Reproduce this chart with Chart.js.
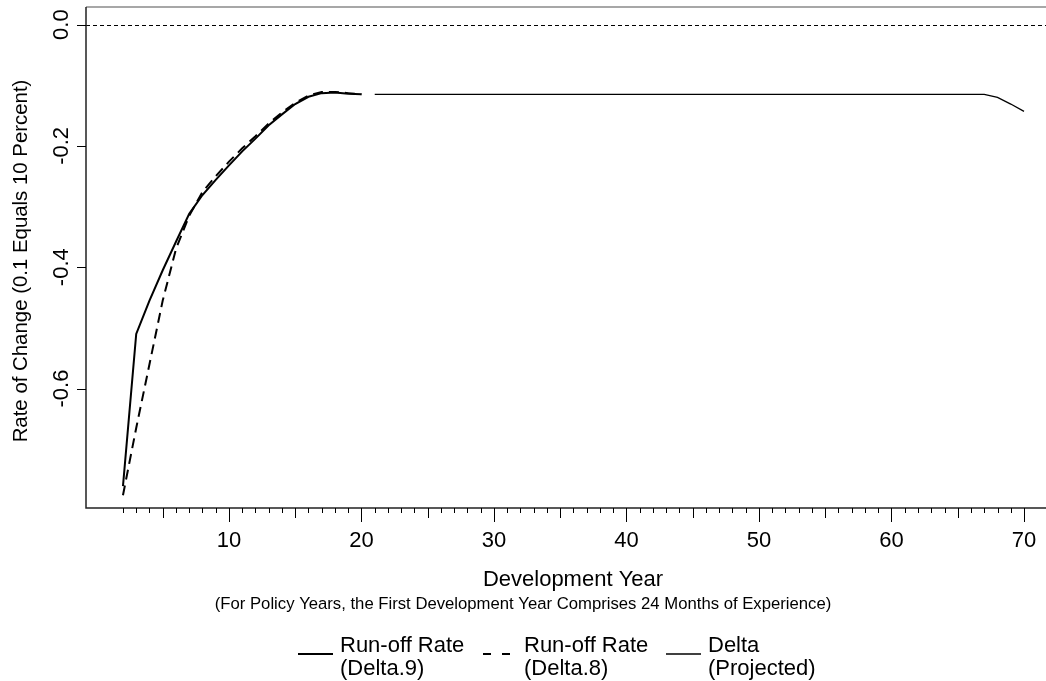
<!DOCTYPE html>
<html>
<head>
<meta charset="utf-8">
<script src="https://cdn.jsdelivr.net/npm/chart.js@4.4.1/dist/chart.umd.min.js"></script>
<style>
  body { margin: 0; background: #fff; }
  #wrap { width: 1046px; height: 681px; }
</style>
</head>
<body>
<div id="wrap"><canvas id="chart" width="1046" height="681"></canvas></div>
<script>
// development years and rates
const earlyYears = [2, 3, 4, 5, 6, 7, 8, 9, 10, 11, 12, 13, 14, 15, 16, 17, 18, 19, 20];
const runoffDelta9 = [-0.761, -0.51, -0.455, -0.405, -0.358, -0.312, -0.281, -0.256, -0.232, -0.209,
  -0.188, -0.166, -0.148, -0.131, -0.119, -0.113, -0.112, -0.114, -0.115];
const runoffDelta8 = [-0.776, -0.665, -0.56, -0.455, -0.37, -0.315, -0.276, -0.25, -0.226, -0.204,
  -0.184, -0.163, -0.145, -0.129, -0.117, -0.111, -0.111, -0.113, -0.115];
const projYears = [21, 22, 23, 24, 25, 26, 27, 28, 29, 30, 31, 32, 33, 34, 35, 36, 37, 38, 39, 40,
  41, 42, 43, 44, 45, 46, 47, 48, 49, 50, 51, 52, 53, 54, 55, 56, 57, 58, 59, 60,
  61, 62, 63, 64, 65, 66, 67, 68, 69, 70];
const projected = [-0.115, -0.115, -0.115, -0.115, -0.115, -0.115, -0.115, -0.115, -0.115, -0.115,
  -0.115, -0.115, -0.115, -0.115, -0.115, -0.115, -0.115, -0.115, -0.115, -0.115,
  -0.115, -0.115, -0.115, -0.115, -0.115, -0.115, -0.115, -0.115, -0.115, -0.115,
  -0.115, -0.115, -0.115, -0.115, -0.115, -0.115, -0.115, -0.115, -0.115, -0.115,
  -0.115, -0.115, -0.115, -0.115, -0.115, -0.115, -0.115, -0.12, -0.131, -0.143];
const seriesLabels = ["Run-off Rate\n(Delta.9)", "Run-off Rate\n(Delta.8)", "Delta\n(Projected)"];
const xTickLabels = [10, 20, 30, 40, 50, 60, 70];
const yTickValues = [0, -0.2, -0.4, -0.6];
const yTickLabels = ["0.0", "-0.2", "-0.4", "-0.6"];
const xTitle = "Development Year";
const xSubtitle = "(For Policy Years, the First Development Year Comprises 24 Months of Experience)";
const yTitle = "Rate of Change (0.1 Equals 10 Percent)";

const FONT = '"Liberation Sans", Arial, Helvetica, sans-serif';

function toPoints(xs, ys) {
  return xs.map((x, i) => ({ x: x, y: ys[i] }));
}

// axes, ticks, titles and legend drawn by hand to get the R look
const decor = {
  id: "decor",
  beforeDatasetsDraw(chart) {
    const ctx = chart.ctx;
    const area = chart.chartArea;
    const y = chart.scales.y;
    ctx.save();
    // zero reference line
    ctx.strokeStyle = "#000";
    ctx.lineWidth = 1;
    ctx.setLineDash([4, 3]);
    const y0 = Math.round(y.getPixelForValue(0)) + 0.5;
    ctx.beginPath();
    ctx.moveTo(area.left, y0);
    ctx.lineTo(area.right, y0);
    ctx.stroke();
    ctx.restore();
  },
  afterDraw(chart) {
    const ctx = chart.ctx;
    const area = chart.chartArea;
    const x = chart.scales.x;
    const y = chart.scales.y;
    ctx.save();
    ctx.setLineDash([]);

    // frame: gray top, dark left and bottom
    ctx.strokeStyle = "#8a8a8a";
    ctx.lineWidth = 1.5;
    ctx.beginPath();
    ctx.moveTo(area.left, area.top);
    ctx.lineTo(area.right, area.top);
    ctx.stroke();
    ctx.strokeStyle = "#222";
    ctx.lineWidth = 1.5;
    ctx.beginPath();
    ctx.moveTo(area.left, area.top);
    ctx.lineTo(area.left, area.bottom);
    ctx.lineTo(area.right, area.bottom);
    ctx.stroke();

    // x ticks: every year from 2, longer at 5s and 10s
    ctx.lineWidth = 1;
    ctx.strokeStyle = "#000";
    for (let yr = 2; yr <= 70; yr++) {
      const px = Math.round(x.getPixelForValue(yr)) + 0.5;
      let len = 5;
      if (yr % 10 === 0) len = 14;
      else if (yr % 5 === 0) len = 10;
      ctx.beginPath();
      ctx.moveTo(px, area.bottom);
      ctx.lineTo(px, area.bottom + len);
      ctx.stroke();
    }
    ctx.fillStyle = "#000";
    ctx.font = "22px " + FONT;
    ctx.textAlign = "center";
    ctx.textBaseline = "alphabetic";
    xTickLabels.forEach((v) => {
      ctx.fillText(String(v), x.getPixelForValue(v), 547);
    });

    // y ticks, rotated labels
    yTickValues.forEach((v, i) => {
      const py = Math.round(y.getPixelForValue(v)) + 0.5;
      ctx.beginPath();
      ctx.moveTo(area.left - 9, py);
      ctx.lineTo(area.left, py);
      ctx.stroke();
      ctx.save();
      ctx.translate(68, y.getPixelForValue(v));
      ctx.rotate(-Math.PI / 2);
      ctx.fillText(yTickLabels[i], 0, 0);
      ctx.restore();
    });

    // titles
    ctx.font = "22px " + FONT;
    ctx.fillText(xTitle, 573, 586);
    ctx.font = "16.7px " + FONT;
    ctx.fillText(xSubtitle, 523, 609);
    ctx.save();
    ctx.font = "20.4px " + FONT;
    ctx.translate(27, 261);
    ctx.rotate(-Math.PI / 2);
    ctx.fillText(yTitle, 0, 0);
    ctx.restore();

    // legend
    const sampleX = [298, 483, 666];
    const textX = [340, 524, 708];
    ctx.textAlign = "left";
    ctx.font = "22px " + FONT;
    chart.data.datasets.forEach((ds, i) => {
      const dashed = ds.borderDash && ds.borderDash.length;
      ctx.strokeStyle = "#000";
      ctx.lineWidth = ds.borderWidth;
      ctx.setLineDash(dashed ? [8, 11] : []);
      ctx.beginPath();
      ctx.moveTo(sampleX[i], 654);
      ctx.lineTo(sampleX[i] + (dashed ? 27 : 35), 654);
      ctx.stroke();
      ctx.setLineDash([]);
      ds.label.split("\n").forEach((t, j) => {
        ctx.fillText(t, textX[i], 652 + j * 23);
      });
    });
    ctx.restore();
  }
};

const data = {
  datasets: [
    {
      label: seriesLabels[0],
      data: toPoints(earlyYears, runoffDelta9),
      borderColor: "#000",
      borderWidth: 2,
      pointRadius: 0,
      tension: 0,
    },
    {
      label: seriesLabels[1],
      data: toPoints(earlyYears, runoffDelta8),
      borderColor: "#000",
      borderWidth: 2,
      borderDash: [10, 6],
      pointRadius: 0,
      tension: 0,
    },
    {
      label: seriesLabels[2],
      data: toPoints(projYears, projected),
      borderColor: "#000",
      borderWidth: 1.3,
      pointRadius: 0,
      tension: 0,
    },
  ],
};

const config = {
  type: "line",
  data,
  options: {
    responsive: false,
    animation: false,
    events: [],
    layout: { padding: { left: 86, top: 7, right: 0, bottom: 173 } },
    scales: {
      x: { type: "linear", min: -0.79, max: 71.66, display: false },
      y: { type: "linear", min: -0.797, max: 0.029, display: false },
    },
    plugins: {
      legend: { display: false },
      tooltip: { enabled: false },
    },
  },
  plugins: [decor],
};

const myChart = new Chart(document.getElementById("chart"), config);
</script>
</body>
</html>
